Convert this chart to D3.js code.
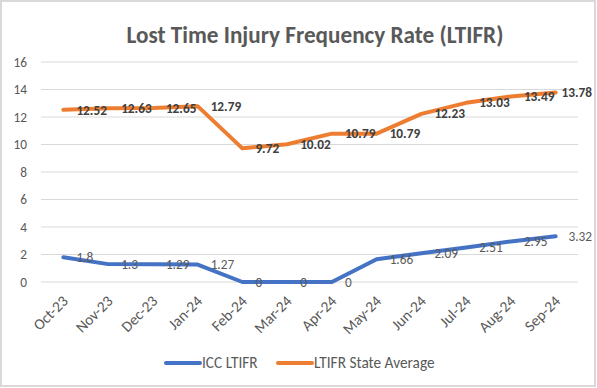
<!DOCTYPE html>
<html>
<head>
<meta charset="utf-8">
<script src="https://cdn.jsdelivr.net/npm/d3@7"></script>
<style>
    body { margin: 0; background: #fff; }
    svg { display: block; font-family: Calibri, Carlito, Lato, sans-serif; }
</style>
</head>
<body>
<script>
// Categories (months)
var months = ["Oct-23", "Nov-23", "Dec-23", "Jan-24", "Feb-24", "Mar-24",
              "Apr-24", "May-24", "Jun-24", "Jul-24", "Aug-24", "Sep-24"];

// Series values
var iccLtifr = [1.8, 1.3, 1.29, 1.27, 0, 0, 0, 1.66, 2.09, 2.51, 2.95, 3.32];
var stateAverage = [12.52, 12.63, 12.65, 12.79, 9.72, 10.02, 10.79, 10.79, 12.23, 13.03, 13.49, 13.78];

// Tick labels for y axis
var yTicks = [0, 2, 4, 6, 8, 10, 12, 14, 16];

var seriesNames = ["ICC LTIFR", "LTIFR State Average"];

var W = 597, H = 388;
var margin = { top: 62, right: 19, bottom: 106, left: 41 },
    width = W - margin.left - margin.right,
    height = H - margin.top - margin.bottom;

var svg = d3.select("body").
            append("svg").
            attr("width", W).
            attr("height", H);

// Chart border
svg.append("rect").
    attr("x", 1).attr("y", 1).
    attr("width", W - 3).attr("height", H - 3).
    attr("fill", "#fff").
    attr("stroke", "#d9d9d9").
    attr("stroke-width", 2);

// Title
svg.append("text").
    attr("x", 315).
    attr("y", 43).
    attr("text-anchor", "middle").
    style("font-size", "23.2px").
    style("font-weight", "bold").
    style("fill", "#595959").
    text("Lost Time Injury Frequency Rate (LTIFR)");

var g = svg.append("g").
            attr("transform", "translate(" + margin.left + "," + margin.top + ")");

var x = d3.scalePoint().domain(months).range([0, width]).padding(0.5);
var y = d3.scaleLinear().domain([0, 16]).range([height, 0]);

// Gridlines
g.selectAll("line.grid").data(yTicks).
    enter().append("line").
    attr("class", "grid").
    attr("x1", 0).attr("x2", width).
    attr("y1", function(d) { return y(d); }).
    attr("y2", function(d) { return y(d); }).
    attr("stroke", "#d9d9d9").
    attr("stroke-width", 1);

// Y axis labels
var yAxis = g.append("g").
    call(d3.axisLeft(y).tickValues(yTicks).tickSize(0).tickPadding(14));
yAxis.select(".domain").remove();
yAxis.selectAll("text").
    style("font-size", "13.3px").
    style("font-family", "Calibri, Carlito, Lato, sans-serif").
    style("fill", "#595959");

// X axis labels, rotated
var xAxis = g.append("g").
    attr("transform", "translate(0," + height + ")").
    call(d3.axisBottom(x).tickSize(0).tickPadding(0));
xAxis.select(".domain").remove();
xAxis.selectAll("text").
    attr("dy", null).
    attr("y", 0).
    attr("transform", "translate(5,20) rotate(-45)").
    style("text-anchor", "end").
    style("font-size", "15.3px").
    style("font-family", "Calibri, Carlito, Lato, sans-serif").
    style("fill", "#595959");

var line = d3.line().
    x(function(d, i) { return x(months[i]); }).
    y(function(d) { return y(d); });

var series = [
    { name: seriesNames[0], values: iccLtifr, color: "#4472c4", bold: false, labelColor: "#595959" },
    { name: seriesNames[1], values: stateAverage, color: "#ed7d31", bold: true, labelColor: "#404040" }
];

series.forEach(function(s) {
    g.append("path").
        datum(s.values).
        attr("d", line).
        attr("fill", "none").
        attr("stroke", s.color).
        attr("stroke-width", 4).
        attr("stroke-linecap", "round").
        attr("stroke-linejoin", "round");
});

// Data labels, to the right of each point (kept inside the chart border)
var maxRight = W - 5 - margin.left;
series.forEach(function(s) {
    g.selectAll(null).data(s.values).
        enter().append("text").
        attr("y", function(d) { return y(d); }).
        attr("dy", ".35em").
        style("font-size", "13.3px").
        style("font-weight", s.bold ? "bold" : "normal").
        style("fill", s.labelColor).
        text(function(d) { return d; }).
        attr("x", function(d, i) {
            var w = this.getComputedTextLength();
            return Math.min(x(months[i]) + 13, maxRight - w);
        });
});

// Legend
var legend = svg.append("g");
var legendX = [166, 278];
series.forEach(function(s, i) {
    var lg = legend.append("g").attr("transform", "translate(" + legendX[i] + ",363)");
    lg.append("line").
        attr("x1", 0).attr("x2", 34).
        attr("stroke", s.color).
        attr("stroke-width", 4).
        attr("stroke-linecap", "round");
    lg.append("text").
        attr("x", 36).
        attr("dy", ".35em").
        style("font-size", "15.3px").
        style("fill", "#595959").
        text(s.name);
});
</script>
</body>
</html>
